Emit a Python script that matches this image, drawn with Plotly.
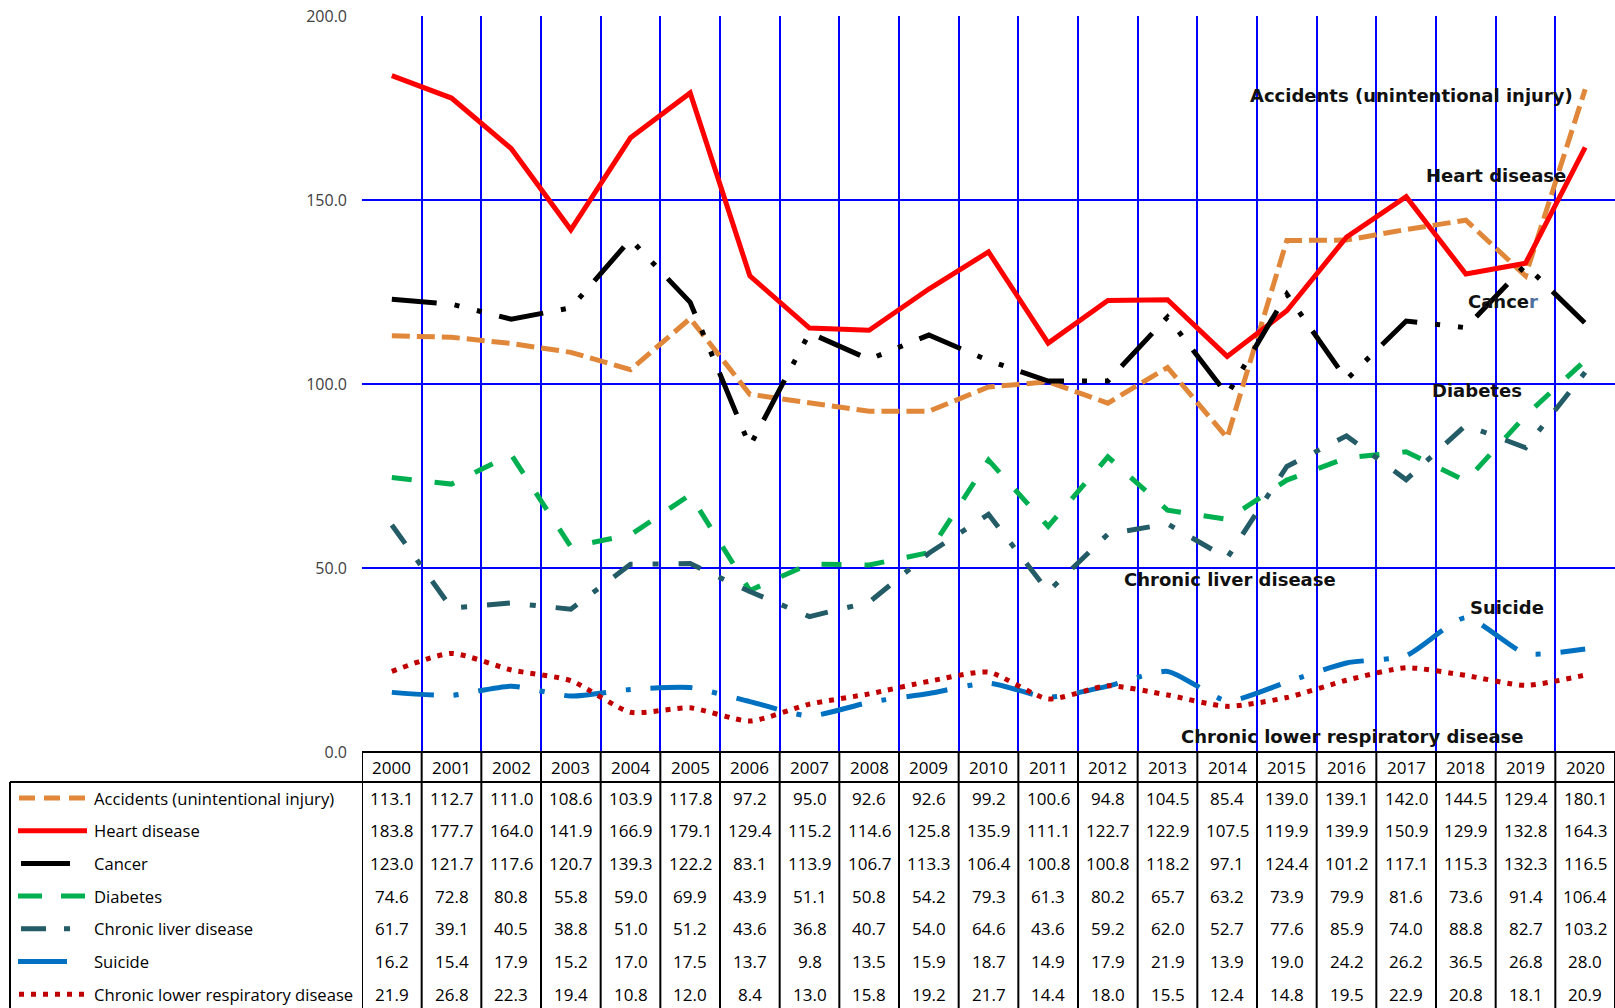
import plotly.graph_objects as go

years = [str(y) for y in range(2000, 2021)]
series_names = ["Accidents (unintentional injury)", "Heart disease", "Cancer", "Diabetes",
                "Chronic liver disease", "Suicide", "Chronic lower respiratory disease"]
accidents = [113.1, 112.7, 111.0, 108.6, 103.9, 117.8, 97.2, 95.0, 92.6, 92.6, 99.2, 100.6, 94.8, 104.5, 85.4, 139.0, 139.1, 142.0, 144.5, 129.4, 180.1]
heart = [183.8, 177.7, 164.0, 141.9, 166.9, 179.1, 129.4, 115.2, 114.6, 125.8, 135.9, 111.1, 122.7, 122.9, 107.5, 119.9, 139.9, 150.9, 129.9, 132.8, 164.3]
cancer = [123.0, 121.7, 117.6, 120.7, 139.3, 122.2, 83.1, 113.9, 106.7, 113.3, 106.4, 100.8, 100.8, 118.2, 97.1, 124.4, 101.2, 117.1, 115.3, 132.3, 116.5]
diabetes = [74.6, 72.8, 80.8, 55.8, 59.0, 69.9, 43.9, 51.1, 50.8, 54.2, 79.3, 61.3, 80.2, 65.7, 63.2, 73.9, 79.9, 81.6, 73.6, 91.4, 106.4]
liver = [61.7, 39.1, 40.5, 38.8, 51.0, 51.2, 43.6, 36.8, 40.7, 54.0, 64.6, 43.6, 59.2, 62.0, 52.7, 77.6, 85.9, 74.0, 88.8, 82.7, 103.2]
suicide = [16.2, 15.4, 17.9, 15.2, 17.0, 17.5, 13.7, 9.8, 13.5, 15.9, 18.7, 14.9, 17.9, 21.9, 13.9, 19.0, 24.2, 26.2, 36.5, 26.8, 28.0]
clrd = [21.9, 26.8, 22.3, 19.4, 10.8, 12.0, 8.4, 13.0, 15.8, 19.2, 21.7, 14.4, 18.0, 15.5, 12.4, 14.8, 19.5, 22.9, 20.8, 18.1, 20.9]
y_ticks = [0, 50, 100, 150, 200]

all_values = [accidents, heart, cancer, diabetes, liver, suicide, clrd]

# styles
colors = ["#E0873A", "#FF0000", "#000000", "#00B050", "#235B66", "#0070C0", "#C00000"]
dashes = ["18px,7px", "solid", "45px,18px,5px,18px,5px,18px", "20px,23px",
          "23px,20px,6px,20px", "42px,20px,5px,20px", "5px,7px"]
shapes_line = ["linear", "linear", "linear", "linear", "linear", "spline", "spline"]
widths = [5, 5, 5, 5, 5, 5, 5]

W, H = 1615, 1008
L, T, B = 362, 16, 752


def pxx(px):
    return (px - L) / (W - L)


def pxy(py):
    return (B - py) / (B - T)


fig = go.Figure()
for name, vals, c, d, s, w in zip(series_names, all_values, colors, dashes, shapes_line, widths):
    fig.add_trace(go.Scatter(x=years, y=vals, name=name, mode="lines",
                             line=dict(color=c, dash=d, width=w, shape=s, smoothing=0.6),
                             showlegend=False))

annotations = []
shapes = []

# in-chart labels
labels = [
    ("Accidents (unintentional injury)", 1411, 95),
    ("Heart disease", 1496, 176),
    ("Cance<span style='color:#4F6FA0'>r</span>", 1503, 301),
    ("Diabetes", 1477, 390),
    ("Chronic liver disease", 1230, 579),
    ("Suicide", 1507, 607),
    ("Chronic lower respiratory disease", 1352, 736),
]
for txt, x, y in labels:
    annotations.append(dict(text="<b>" + txt + "</b>", x=pxx(x), y=pxy(y), xref="paper", yref="paper",
                            showarrow=False, xanchor="center", yanchor="middle",
                            font=dict(family="DejaVu Sans", size=18, color="#111111")))

# data table
tfont = dict(family="Open Sans", size=17, color="#000000")
lfont = dict(family="Open Sans", size=16.6, color="#000000")
header_y = 767
row_y0, row_dy = 798, 32.7
for i, yr in enumerate(years):
    annotations.append(dict(text=yr, x=i, y=pxy(header_y), xref="x", yref="paper",
                            showarrow=False, xanchor="center", yanchor="middle", font=tfont))
for r, (name, vals) in enumerate(zip(series_names, all_values)):
    ry = row_y0 + r * row_dy
    for i, v in enumerate(vals):
        annotations.append(dict(text=f"{v:.1f}", x=i, y=pxy(ry), xref="x", yref="paper",
                                showarrow=False, xanchor="center", yanchor="middle", font=tfont))
    annotations.append(dict(text=name, x=pxx(92), y=pxy(ry), xref="paper", yref="paper",
                            showarrow=False, xanchor="left", yanchor="middle", font=lfont))

# legend keys in table
key_ranges = [(19, 86), (18, 87), (21, 70), (18, 86), (21, 70), (18, 67), (19, 86)]
key_dash = ["16px,9px", "solid", "solid", "24px,19px", "25px,18px,6px,30px", "solid", "5px,7px"]
for r, (rng, c, d) in enumerate(zip(key_ranges, colors, key_dash)):
    ry = row_y0 + r * row_dy
    shapes.append(dict(type="line", xref="paper", yref="paper", x0=pxx(rng[0]), x1=pxx(rng[1]),
                       y0=pxy(ry), y1=pxy(ry), line=dict(color=c, width=5, dash=d), layer="above"))

# table borders
bc = "#000000"
shapes.append(dict(type="line", xref="paper", yref="paper", x0=pxx(362), x1=1.0,
                   y0=pxy(752), y1=pxy(752), line=dict(color=bc, width=2)))
shapes.append(dict(type="line", xref="paper", yref="paper", x0=pxx(10), x1=1.0,
                   y0=pxy(782), y1=pxy(782), line=dict(color=bc, width=2)))
shapes.append(dict(type="line", xref="paper", yref="paper", x0=pxx(10), x1=pxx(10),
                   y0=pxy(782), y1=pxy(H + 5), line=dict(color=bc, width=2)))
for i in range(len(years) + 1):
    shapes.append(dict(type="line", xref="x", yref="paper", x0=i - 0.5, x1=i - 0.5,
                       y0=pxy(752), y1=pxy(H + 5), line=dict(color=bc, width=2)))

fig.update_layout(
    width=W, height=H,
    margin=dict(l=L, r=0, t=T, b=H - B, pad=0),
    paper_bgcolor="white", plot_bgcolor="white",
    annotations=annotations, shapes=shapes,
    xaxis=dict(type="category", range=[-0.5, len(years) - 0.5], tickson="boundaries",
               showgrid=True, gridcolor="#0000FF", gridwidth=2, showticklabels=False,
               ticks="", showline=False, zeroline=False),
    yaxis=dict(range=[0, 200], tickvals=y_ticks, tickformat=".1f", showgrid=True,
               gridcolor="#0000FF", gridwidth=2, zeroline=False, showline=False, ticks="",
               ticklabelstandoff=14,
               tickfont=dict(family="Open Sans", size=16, color="#404040")),
)

fig.write_html("out.html", config={"displayModeBar": False},
               post_script="document.body.style.margin='0';document.body.style.overflow='hidden';")
